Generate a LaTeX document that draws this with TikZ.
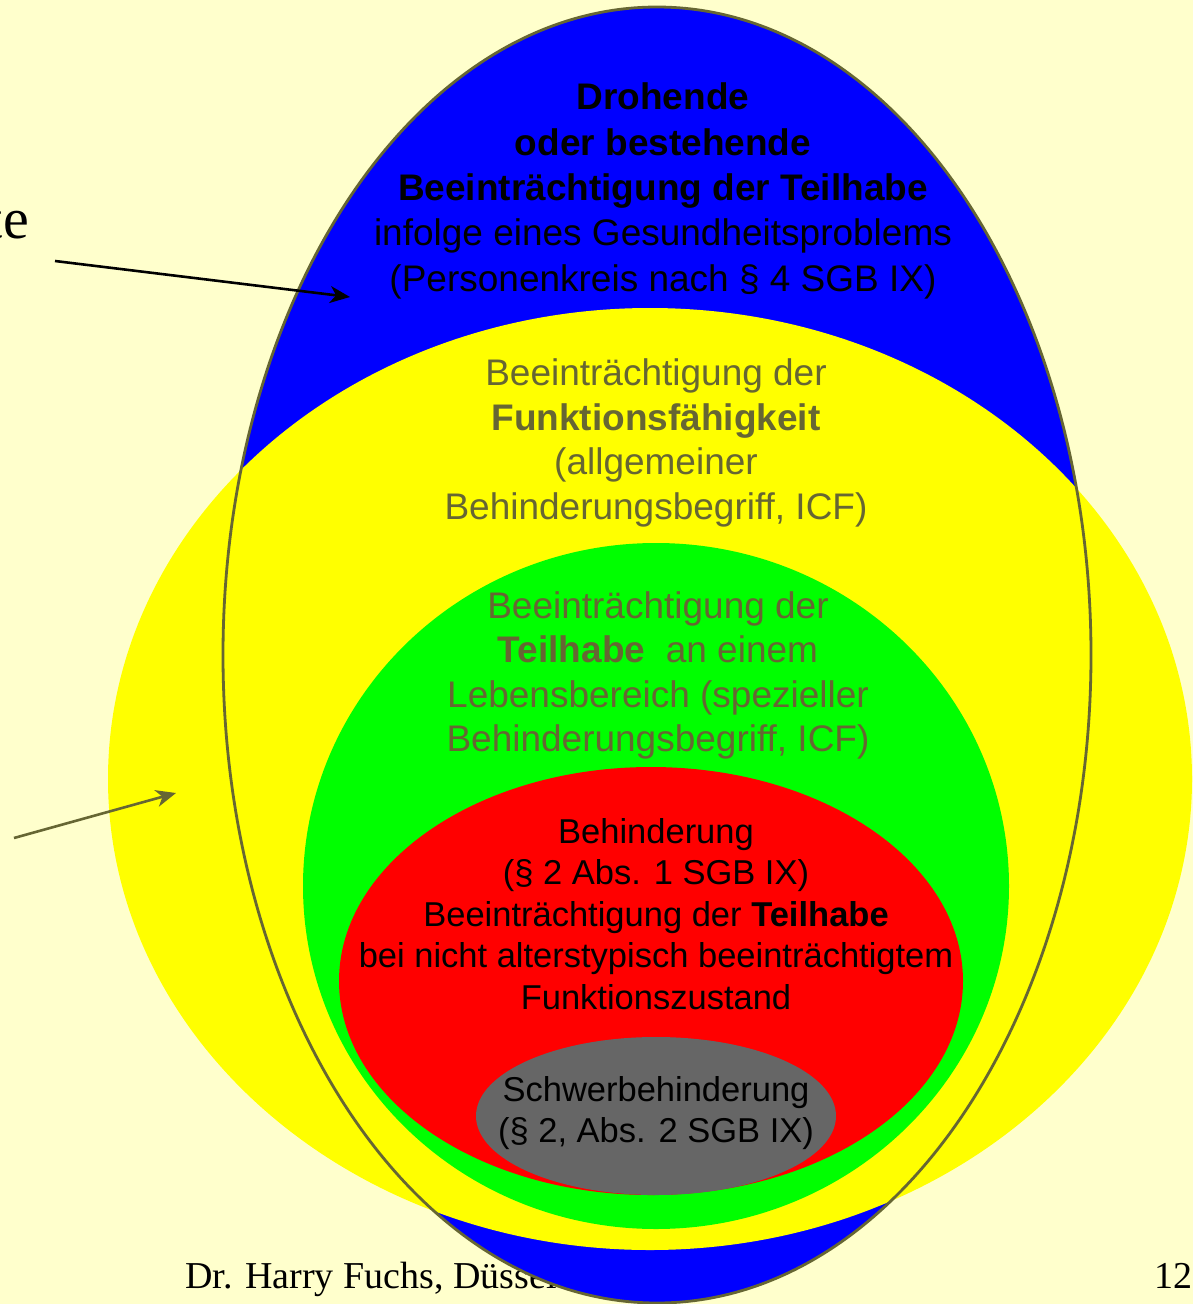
\documentclass[tikz,border=0pt]{standalone}
\usepackage{fontspec}
\setmainfont{Liberation Serif}
\setsansfont{Liberation Sans}
\usetikzlibrary{arrows.meta,shapes.geometric}
\definecolor{bgcol}{RGB}{255,255,204}
\definecolor{olive}{RGB}{102,102,51}
\definecolor{bluefill}{RGB}{0,0,255}
\definecolor{yellowfill}{RGB}{255,255,0}
\definecolor{greenfill}{RGB}{0,255,0}
\definecolor{redfill}{RGB}{255,0,0}
\definecolor{grayfill}{RGB}{102,102,102}
\tikzset{
  bigtext/.style={font=\sffamily\fontsize{37}{44.5}\selectfont, align=center, inner sep=0pt},
  bluetext/.style={font=\sffamily\fontsize{37}{45.3}\selectfont, align=center, inner sep=0pt},
  midtext/.style={font=\sffamily\fontsize{34.5}{41.5}\selectfont, align=center, inner sep=0pt},
  serif/.style={font=\rmfamily\fontsize{38}{44}\selectfont, inner sep=0pt},
  arrowline/.style={line width=2.6pt, -{Stealth[length=20pt, width=17pt, inset=6pt]}},
  outline/.style={draw=olive, line width=2.8pt}
}
\begin{document}
\begin{tikzpicture}[x=1pt, y=-1pt]
\useasboundingbox (0,0) rectangle (1193,1304);
\fill[bgcol] (0,0) rectangle (1193,1304);
% footer (partly covered by the ellipse)
\node[serif, anchor=base west] (footer) at (185,1288) {Dr. Harry Fuchs, Düsseldorf};
\node[serif, anchor=base east] (pagenum) at (1193,1288) {12};
\node[font=\rmfamily\fontsize{58}{62}\selectfont, inner sep=0pt, anchor=base east] (cut) at (29,238) {te};
% ellipses
\fill[bluefill] (657,655) ellipse [x radius=434pt, y radius=648pt];
\fill[yellowfill] (650,779) ellipse [x radius=542pt, y radius=471pt];
\fill[greenfill] (656,886) ellipse [x radius=353pt, y radius=343pt];
\fill[redfill] (651,981) ellipse [x radius=312pt, y radius=214pt];
\fill[grayfill] (656,1116) ellipse [x radius=180pt, y radius=79pt];
\draw[outline] (657,655) ellipse [x radius=434pt, y radius=648pt];
% texts
\node[bluetext, text=black] (t1) at (663,191) {\textbf{Drohende}\\ \textbf{oder bestehende}\\ \textbf{Beeinträchtigung der Teilhabe}\\ infolge eines Gesundheitsproblems\\ (Personenkreis nach § 4 SGB IX)};
\node[bigtext, text=olive] (t2) at (656,443) {Beeinträchtigung der\\ \textbf{Funktionsfähigkeit}\\ (allgemeiner\\ Behinderungsbegriff, ICF)};
\node[bigtext, text=olive] (t3) at (658,675.5) {Beeinträchtigung der\\ \textbf{Teilhabe}\ \ an einem\\ Lebensbereich (spezieller\\ Behinderungsbegriff, ICF)};
\node[midtext, text=black] (t4) at (656,914) {Behinderung\\ (§ 2 Abs. 1 SGB IX)\\ Beeinträchtigung der \textbf{Teilhabe}\\ bei nicht alterstypisch beeinträchtigtem\\ Funktionszustand};
\node[midtext, text=black] (t5) at (656,1113) {Schwerbehinderung\\ (§ 2, Abs. 2 SGB IX)};
% arrows
\coordinate (a1s) at (55,261);
\coordinate (a1e) at (350,297);
\coordinate (a2s) at (14,838);
\coordinate (a2e) at (176,793);
\draw[arrowline, black] (a1s) -- (a1e);
\draw[arrowline, olive] (a2s) -- (a2e);
\end{tikzpicture}
\end{document}
